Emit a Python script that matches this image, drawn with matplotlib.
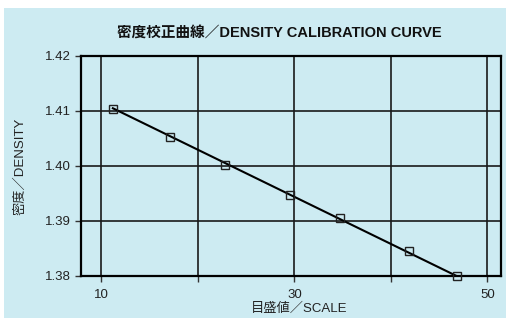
import matplotlib.pyplot as plt
from matplotlib.patches import Rectangle

plt.rcParams['font.family'] = ['Liberation Sans', 'Noto Sans CJK JP', 'DejaVu Sans']

# measured points
scale = [11.2, 17.1, 22.8, 29.5, 34.7, 41.9, 46.8]
density = [1.4104, 1.4053, 1.4002, 1.3948, 1.3906, 1.3845, 1.3800]

# calibration line (end points)
line_x = [11.2, 46.8]
line_y = [1.4105, 1.3800]

xticks = [10, 20, 30, 40, 50]
xticklabels = ['10', '', '30', '', '50']
yticks = [1.38, 1.39, 1.40, 1.41, 1.42]
yticklabels = ['1.38', '1.39', '1.40', '1.41', '1.42']

bg = '#cdebf2'

fig = plt.figure(figsize=(5.1, 3.18), dpi=100)
fig.patches.append(Rectangle((4 / 510, 0), 502 / 510, 310 / 318,
                             transform=fig.transFigure, facecolor=bg,
                             edgecolor='none', zorder=-10))

ax = fig.add_axes([81 / 510, 1 - 276 / 318, 420 / 510, 220 / 318])
ax.set_facecolor(bg)

ax.plot(line_x, line_y, color='black', lw=1.5, zorder=3)
ax.plot(scale, density, ls='none', marker='s', ms=6, mfc='none',
        mec='#222222', mew=1.0, zorder=4, clip_on=False)

ax.set_xlim(7.9, 51.4)
ax.set_ylim(1.38, 1.42)
ax.set_xticks(xticks)
ax.set_xticklabels(xticklabels)
ax.set_yticks(yticks)
ax.set_yticklabels(yticklabels)
ax.grid(True, color='#1a1a1a', lw=1.2)
ax.set_axisbelow(True)
for s in ax.spines.values():
    s.set_color('black')
    s.set_linewidth(1.6)
ax.tick_params(direction='out', length=4, width=1, colors='#333333',
               labelsize=9.5, labelcolor='#222222')
ax.tick_params(axis='x', pad=5.5)
ax.tick_params(axis='y', pad=3.5)

fig.text(279 / 510, 1 - 33 / 318, '密度校正曲線／DENSITY CALIBRATION CURVE',
         ha='center', va='center', fontsize=10.5, fontweight='bold',
         color='#111111')
fig.text(299 / 510, 1 - 309 / 318, '目盛値／SCALE', ha='center', va='center',
         fontsize=9.5, color='#222222')
fig.text(20 / 510, 1 - 166 / 318, '密度／DENSITY', ha='center', va='center',
         rotation=90, fontsize=9.5, color='#222222')

fig.savefig('out.png', dpi=100)
